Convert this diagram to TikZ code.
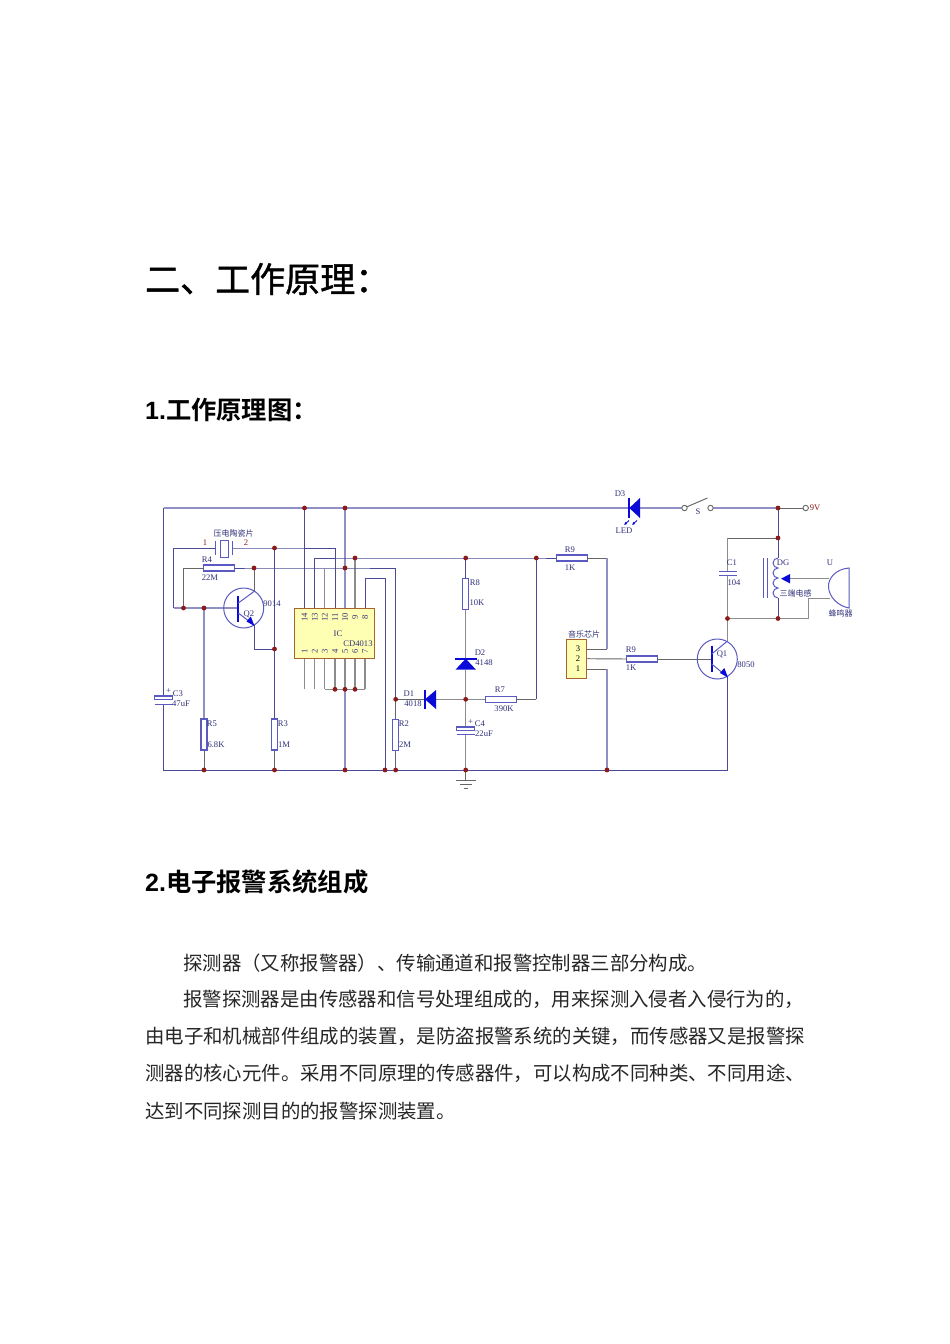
\documentclass[tikz,border=0pt]{standalone}
\usepackage{fontspec}
\usetikzlibrary{arrows.meta}
\setmainfont{Liberation Serif}
\newfontfamily\cjk{Noto Sans CJK SC}
\newfontfamily\cjkfb[FakeBold=1.2]{Noto Sans CJK SC}
\newfontfamily\cjkb[BoldFont={Noto Sans CJK SC Bold}]{Noto Sans CJK SC}
\newfontfamily\arialb{Liberation Sans Bold}
\definecolor{wirec}{HTML}{4A4A96}
\definecolor{lightw}{HTML}{9090C4}
\definecolor{leadc}{HTML}{666666}
\definecolor{compc}{HTML}{5A5AC0}
\definecolor{dotc}{HTML}{8B1A1A}
\definecolor{diodec}{HTML}{0A0AD8}
\definecolor{txtc}{HTML}{30307A}
\definecolor{icfill}{HTML}{FFFFB4}
\definecolor{icedge}{HTML}{A8642E}
\tikzset{
  wire/.style={draw=wirec,line width=0.95pt},
  lightwire/.style={draw=lightw,line width=1.7pt},
  leadw/.style={draw=leadc,line width=0.95pt},
  graywire/.style={draw=leadc!75,line width=1.2pt},
  jdot/.style={circle,fill=dotc,inner sep=0,minimum size=4.8pt},
  resv/.style={draw=compc,fill=white,line width=1.1pt,minimum width=6pt,minimum height=31pt,inner sep=0},
  resh/.style={draw=compc,fill=white,line width=1.1pt,minimum width=31pt,minimum height=6pt,inner sep=0},
  capplate/.style={draw=compc,fill=white,line width=1.1pt,minimum width=18pt,minimum height=3.4pt,inner sep=0},
  comp/.style={draw=compc,line width=1pt},
  solidc/.style={fill=diodec},
  bar/.style={draw=diodec,line width=2.2pt},
  lbl/.style={text=txtc,font=\fontsize{8.6}{9}\selectfont,inner sep=0},
  clbl/.style={text=txtc,font=\cjk\fontsize{8}{9}\selectfont,inner sep=0},
  redlbl/.style={text=dotc,font=\fontsize{8.6}{9}\selectfont,inner sep=0},
  pinlbl/.style={text=txtc,font=\fontsize{8.6}{9}\selectfont,inner sep=0,rotate=90},
  bodytxt/.style={anchor=west,inner sep=0,font=\cjk\fontsize{19.4}{20}\selectfont,text=black!85},
  chipbox/.style={draw=icedge,fill=icfill,line width=1.1pt,inner sep=0},
  termc/.style={circle,draw=leadc,fill=white,line width=0.9pt,inner sep=0,minimum size=5.4pt},
}
\begin{document}
\begin{tikzpicture}[x=1pt,y=-1pt]
\useasboundingbox[fill=white] (0,0) rectangle (950,1344);

% ---------- page text ----------
\node[anchor=west,inner sep=0,font=\cjkfb\fontsize{35}{36}\selectfont] (h1) at (145,279) {二、工作原理：};
\node[anchor=west,inner sep=0] (h2) at (145,410) {{\arialb\fontsize{25}{26}\selectfont 1.}{\cjkb\bfseries\fontsize{25.3}{26}\selectfont 工作原理图：}};
\node[anchor=west,inner sep=0] (h3) at (145,882) {{\arialb\fontsize{25}{26}\selectfont 2.}{\cjkb\bfseries\fontsize{25.3}{26}\selectfont 电子报警系统组成}};
\node[bodytxt] (b1) at (183,963) {探测器（又称报警器）、传输通道和报警控制器三部分构成。};
\node[bodytxt] (b2) at (183,999) {报警探测器是由传感器和信号处理组成的，用来探测入侵者入侵行为的，};
\node[bodytxt] (b3) at (145,1036) {由电子和机械部件组成的装置，是防盗报警系统的关键，而传感器又是报警探};
\node[bodytxt] (b4) at (145,1073) {测器的核心元件。采用不同原理的传感器件，可以构成不同种类、不同用途、};
\node[bodytxt] (b5) at (145,1111) {达到不同探测目的的报警探测装置。};

% ---------- components ----------
\node[chipbox,minimum width=80pt,minimum height=50.3pt] (IC) at (334.3,633.2) {};
\node[chipbox,minimum width=20.4pt,minimum height=39.3pt] (MU) at (576.5,658.7) {};
\node[resh] (R4) at (219,568) {};
\node[resv] (R5) at (204,734.5) {};
\node[resv] (R3) at (274.5,734.5) {};
\node[resv] (R2) at (395.7,735) {};
\node[resv] (R8) at (465.7,593.7) {};
\node[resh] (R7) at (501.2,699.3) {};
\node[resh] (R9a) at (571.7,558) {};
\node[resh] (R9b) at (642.3,659) {};
\node[capplate] (C3p) at (163.5,697.7) {};
\node[capplate] (C4p) at (465.7,728.7) {};

% ---------- junctions and corners ----------
\foreach \n/\x/\y in {
  TL/163.5/508, BL/163.5/770, T14/304.5/508, T10/345/508,
  P1/173.5/548, P2/274.5/548, P3/335/548,
  N13/355/558, C13/314.7/558, N8/465.7/558, N9/536.3/558, RR/607/558,
  C4a/183.5/568, N4/254/568, N10/345/568, C12/324.7/568, RC/395.7/568,
  C8a/365/578.7, C8b/385/578.7,
  LB/173.5/608, N1/183.5/608, N5/204/608, Qb/238.3/608,
  Qc/254/591.5, Qe/254/625, Qd/254/649, N3/274.5/649,
  B4/335/689.3, B5/345/689.3, B6/355/689.3, B3/324.7/689.3, B7/365/689.3, B1/304.5/689.3, B2/314.7/689.3,
  ND1/395.7/699.3, ND2/465.7/699.3, CR7/536.3/699.3,
  G5/204/770, G3/274.5/770, G10/345/770, G8/385/770, G2/395.7/770, G4/465.7/770, G9/607/770, BR/727.5/770,
  Gnd/465.7/780,
  M3/607/649, M1/607/669, Qb1/711.7/659, Qc1/727.5/641, Qe1/727.5/677,
  D3a/629.3/508, D3b/640/508, SW1/684.5/508, SW2/710.5/508, V9/805.7/508, T78/778/508,
  N78/778/538, C1t/727.5/538, C1u/727.5/571, C1l/727.5/575.4,
  L1/778/558, L2/778/598, N62/778/618.5, C1b/727.5/618.5, SPa/808.3/618.5, SPb/808.3/598.3, SPc/829.5/598.3,
  Ar/790/578.7, ArS/829/578.7, D1a/425/699.3, D1b/436/699.3, D2a/465.7/658.7, D2b/465.7/669.7,
  C3n/163.5/704, C4n/465.7/734}
  {\coordinate (\n) at (\x,\y);}

% ---------- wires ----------
\draw[wire] (C3p.north) -- (TL);
\draw[lightwire,line width=1.3pt] (TL) -- (D3a);
\draw[lightwire,line width=1.3pt] (D3b) -- (SW1);
\draw[lightwire,line width=1.3pt] (SW2) -- (T78);
\draw[leadw] (T78) -- (V9);
\draw[wire] (C3n) -- (BL) -- (BR) -- (Qe1);
\draw[wire] (LB) -- (P1) -- (P2) -- (P3) -- (IC.north -| P3);
\draw[wire] (T14) -- (IC.north -| T14);
\draw[lightwire] (T10) -- (IC.north -| T10);
\draw[wire] (IC.north -| C13) -- (C13) -- (N13) -- (N8) -- (N9) -- (R9a.west);
\draw[graywire] (IC.north -| N13) -- (N13);
\draw[leadw] (C4a) -- (R4.west);
\draw[wire] (R4.east) -- (N4) -- (N10) -- (RC);
\draw[wire] (RC) -- (ND1);
\draw[leadw] (ND1) -- (R2.north);
\draw[leadw] (R2.south) -- (G2);
\draw[graywire] (IC.north -| C12) -- (C12);
\draw[wire] (IC.north -| C8a) -- (C8a) -- (C8b) -- (G8);
\draw[lightwire] (LB) -- (Qb);
\draw[leadw] (C4a) -- (N1);
\draw[lightwire] (N5) -- (R5.north);
\draw[leadw] (R5.south) -- (G5);
\draw[wire] (P2) -- (R3.north);
\draw[leadw] (R3.south) -- (G3);
\draw[leadw] (N4) -- (Qc);
\draw[wire] (Qe) -- (Qd) -- (N3);
\draw[lightwire] (B5) -- (G10);
\foreach \n in {B1,B2,B3,B4,B5,B6,B7}{\draw[graywire] (IC.south -| \n) -- (\n);}
\draw[graywire] (B3) -- (B7);
\draw[wire] (N8) -- (R8.north);
\draw[graywire] (R8.south) -- (D2a);
\draw[graywire] (D2b) -- (ND2);
\draw[graywire] (ND2) -- (C4p.north);
\draw[graywire] (C4n) -- (G4);
\draw[leadw] (G4) -- (Gnd);
\draw[leadw] (ND1) -- (D1a);
\draw[graywire] (D1b) -- (ND2) -- (R7.west);
\draw[leadw] (R7.east) -- (CR7);
\draw[wire] (CR7) -- (N9);
\draw[leadw] (R9a.east) -- (RR);
\draw[lightwire] (RR) -- (M3);
\draw[leadw] (M3) -- (MU.east |- M3);
\draw[leadw] (MU.east |- M1) -- (M1);
\draw[lightwire] (M1) -- (G9);
\draw[leadw] (MU.east) -- (R9b.west);
\draw[leadw] (R9b.east) -- (Qb1);
\draw[graywire] (Qc1) -- (C1b);
\draw[graywire] (C1l) -- (C1b);
\draw[graywire] (C1u) -- (C1t);
\draw[leadw] (C1t) -- (N78);
\draw[wire] (T78) -- (L1);
\draw[wire] (L2) -- (N62);
\draw[graywire] (C1b) -- (SPa) -- (SPb) -- (SPc);
\draw[graywire] (Ar) -- (ArS);

% ---------- capacitors ----------
\draw[comp] (154.5,704) -- (172.5,704);
\draw[comp] (456.7,734) -- (474.7,734);
\draw[comp] (718.5,571) -- (736.5,571);
\draw[comp] (718.5,575.4) -- (736.5,575.4);

% ---------- piezo element ----------
\fill[white] (216.2,546) rectangle (232,550);
\draw[comp] (215.7,541) -- (215.7,555);
\draw[comp] (232.5,541) -- (232.5,555);
\draw[comp,fill=white] (220.7,540) rectangle (228.3,557);

% ---------- transistors ----------
\draw[comp] (243.7,608) circle (20);
\draw[bar] (238.3,596) -- (238.3,622);
\draw[comp] (238.3,603) -- (Qc);
\draw[comp] (238.3,613) -- (Qe);
\fill[solidc] (254.5,626) -- (246.5,621.5) -- (250.8,616.5) -- cycle;
\draw[comp] (717.3,659) circle (20);
\draw[bar] (711.7,646) -- (711.7,672);
\draw[comp] (711.7,654) -- (Qc1);
\draw[comp] (711.7,664) -- (Qe1);
\fill[solidc] (728,677.5) -- (720,673) -- (724.3,668) -- cycle;

% ---------- diodes ----------
\fill[solidc] (D1a) -- (436,690) -- (436,709) -- cycle;
\draw[bar] (425,690) -- (425,709);
\fill[solidc] (D2a) -- (455.5,669.7) -- (476,669.7) -- cycle;
\draw[bar] (455,658.7) -- (476.5,658.7);
\fill[solidc] (D3a) -- (640,498) -- (640,518) -- cycle;
\draw[bar] (629.3,498) -- (629.3,518);
\draw[draw=diodec,line width=0.9pt,-{Latex[length=3pt,width=3pt]}] (629,520.5) -- (624,525);
\draw[draw=diodec,line width=0.9pt,-{Latex[length=3pt,width=3pt]}] (637,520.5) -- (632,525);

% ---------- switch and terminal ----------
\draw[leadw] (686.5,507) -- (707.5,498);
\node[termc] (s1) at (SW1) {};
\node[termc] (s2) at (SW2) {};
\node[termc] (v9) at (V9) {};

% ---------- inductor, core, speaker ----------
\draw[comp] (L1) arc[start angle=-90,end angle=-270,radius=5] arc[start angle=-90,end angle=-270,radius=5]
  arc[start angle=-90,end angle=-270,radius=5] arc[start angle=-90,end angle=-270,radius=5];
\draw[comp] (763.3,558) -- (763.3,598);
\draw[comp] (767,558) -- (767,598);
\fill[solidc] (781,578.7) -- (790,574) -- (790,583.4) -- cycle;
\draw[comp] (849,568) .. controls (836,569) and (828,578) .. (828.5,587) .. controls (829,597) and (838,606) .. (849,608) -- cycle;

% ---------- ground ----------
\draw[leadw] (455.7,780) -- (475.7,780);
\draw[leadw] (459.7,784) -- (471.7,784);
\draw[leadw] (463.7,788) -- (467.7,788);

% ---------- dots ----------
\foreach \n in {T14,T10,P2,N13,N8,N9,N4,N10,N1,N5,N3,B4,B5,B6,ND1,ND2,G5,G3,G10,G8,G2,G4,G9,T78,N78,N62,C1b}
  {\node[jdot] (dot\n) at (\n) {};}

% ---------- IC pins ----------
\foreach \t/\x in {14/304.5,13/314.7,12/324.7,11/335,10/345,9/355,8/365}
  {\node[pinlbl] (pt\t) at (\x,617.5) {\t};}
\foreach \t/\x in {1/304.5,2/314.7,3/324.7,4/335,5/345,6/355,7/365}
  {\node[pinlbl] (pb\t) at (\x,651.5) {\t};}

% ---------- labels ----------
\node[lbl] (tIC) at (338,634) {IC};
\node[lbl] (tCD) at (358,644) {CD4013};
\node[clbl] (tpz) at (233.5,533.5) {压电陶瓷片};
\node[redlbl] (t1) at (205,543) {1};
\node[redlbl] (t2) at (246,543) {2};
\node[lbl] (tR4) at (207,560) {R4};
\node[lbl] (t22M) at (210,577.5) {22M};
\node[lbl] (t9014) at (272,604) {9014};
\node[lbl] (tQ2) at (249,614) {Q2};
\node[lbl] (tC3) at (178,693.5) {C3};
\node[lbl] (tC3v) at (181,704) {47uF};
\node[lbl] (tplus3) at (168.5,691.5) {+};
\node[lbl] (tR5) at (212,724) {R5};
\node[lbl] (t68) at (216,744.5) {6.8K};
\node[lbl] (tR3) at (283,724) {R3};
\node[lbl] (t1M) at (284,744.5) {1M};
\node[lbl] (tD1) at (409,694) {D1};
\node[lbl] (t4018) at (413,704) {4018};
\node[lbl] (tR2) at (404,724) {R2};
\node[lbl] (t2M) at (405,744.5) {2M};
\node[lbl] (tR8) at (475,582.5) {R8};
\node[lbl] (t10K) at (477,603) {10K};
\node[lbl] (tD2) at (480,653) {D2};
\node[lbl] (t4148) at (484,663) {4148};
\node[lbl] (tR7) at (500,690) {R7};
\node[lbl] (t390) at (504,709) {390K};
\node[lbl] (tC4) at (480,723.5) {C4};
\node[lbl] (tC4v) at (484,734) {22uF};
\node[lbl] (tplus4) at (470.5,722) {+};
\node[lbl] (tR9a) at (570,550) {R9};
\node[lbl] (t1Ka) at (570,568) {1K};
\node[clbl] (tmu) at (584,634) {音乐芯片};
\node[lbl,text=black] (m3) at (578,649) {3};
\node[lbl,text=black] (m2) at (578,659) {2};
\node[lbl,text=black] (m1) at (578,669) {1};
\node[lbl] (tR9b) at (631,650) {R9};
\node[lbl] (t1Kb) at (631,668) {1K};
\node[lbl] (tQ1) at (722,654.5) {Q1};
\node[lbl] (t8050) at (746,664.5) {8050};
\node[lbl] (tD3) at (620,494) {D3};
\node[lbl] (tLED) at (624,531) {LED};
\node[lbl] (tS) at (698,512) {S};
\node[redlbl] (t9V) at (815,508) {9V};
\node[lbl] (tC1) at (732,563) {C1};
\node[lbl] (t104) at (734,583) {104};
\node[lbl] (tDG) at (783,563) {DG};
\node[clbl] (tind) at (795.5,593) {三端电感};
\node[lbl] (tU) at (830,563) {U};
\node[clbl] (tbz) at (840.5,613.5) {蜂鸣器};
\end{tikzpicture}
\end{document}
